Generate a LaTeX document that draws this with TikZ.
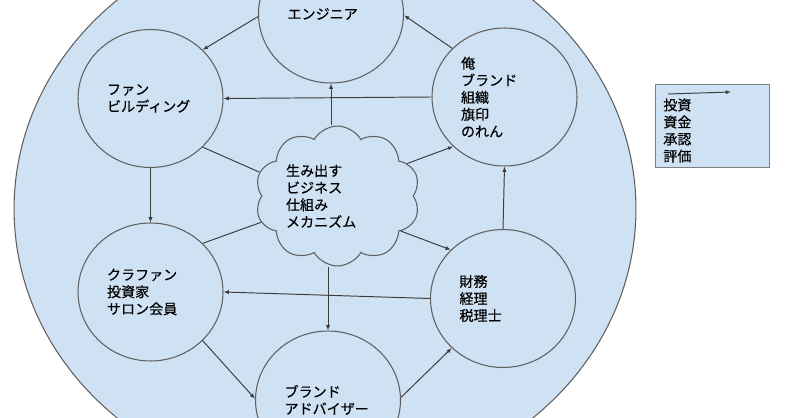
\documentclass[tikz,border=0pt]{standalone}
\usepackage{fontspec}
\newfontfamily\jpfont[FakeBold=0.4]{Noto Sans CJK JP}
\usepackage{tikz}
\usetikzlibrary{shapes.geometric,shapes.symbols,arrows.meta}
\definecolor{paleblue}{HTML}{CFE2F3}
\definecolor{rimgray}{HTML}{5F5F5F}
\definecolor{inkgray}{HTML}{3C3C3C}

\begin{document}
\begin{tikzpicture}[x=0.02cm,y=-0.02cm,
  every node/.style={font=\jpfont\fontsize{8pt}{9.7pt}\selectfont, text=black},
  bubble/.style={ellipse, draw=rimgray, line width=0.6pt, fill=paleblue, minimum width=2.9cm, minimum height=2.76cm, inner sep=0pt, text width=1.74cm, align=left},
  link/.style={draw=inkgray, line width=0.55pt, -{Latex[length=3pt,width=2.4pt]}},
  bare/.style={draw=inkgray, line width=0.55pt}]
  \useasboundingbox (0,0) rectangle (800,418);
  \clip (0,0) rectangle (800,418);
  \draw[rimgray, line width=0.6pt, fill=paleblue] (325,209) ellipse [x radius=6.22cm, y radius=5.62cm];

  \node[bubble] (eng) at (331,14) {エンジニア};
  \node[bubble] (fan) at (150.5,98.5) {ファン\\ビルディング};
  \node[bubble] (ore) at (504.5,97) {俺\\ブランド\\組織\\旗印\\のれん};
  \node[bubble] (kura) at (150.5,292) {クラファン\\投資家\\サロン会員};
  \node[bubble] (zaimu) at (503,298.5) {財務\\経理\\税理士};
  \node[bubble] (adv) at (328,400) {ブランド\\アドバイザー};
  \node[cloud, cloud puffs=10, cloud puff arc=120, aspect=1.2, draw=rimgray, line width=0.6pt, fill=paleblue, minimum width=3.3cm, minimum height=2.8cm] (core) at (337.5,196) {};
  \node[text width=2.06cm, align=left, inner sep=0pt] (coretext) at (core.center) {生み出す\\ビジネス\\仕組み\\メカニズム};

  \node[draw=gray, line width=0.5pt, fill=paleblue, minimum width=2.28cm, minimum height=1.66cm, inner sep=0pt] (legend) at (712,125.5) {};
  \node[anchor=west, align=left, inner sep=0pt] (legendtext) at (663,130.5) {投資\\資金\\承認\\評価};
  \coordinate (tail) at (668,94); \coordinate (head) at (731,92);
  \draw[link] (tail) -- (head);

  \draw[link] (eng.182) -- (fan.43);
  \draw[link] (ore.137) -- (eng.359);
  \draw[link] (ore.west) -- (fan.east);
  \draw[link] (eng.south |- core.north) -- (eng.south);
  \draw[link] (core.25) -- (ore.224);
  \draw[bare] (fan.317) -- (core.163);
  \draw[link] (fan.south) -- (kura.north);
  \draw[bare] (core.199) -- (kura.43);
  \draw[link] (zaimu.west) -- (kura.east);
  \draw[link] (core.331) -- (zaimu.137);
  \draw[link] (zaimu.north) -- (ore.south);
  \draw[link] (adv.north |- core.south) -- (adv.north);
  \draw[link] (kura.317) -- (adv.179);
  \draw[link] (adv.2) -- (zaimu.224);
\end{tikzpicture}
\end{document}
